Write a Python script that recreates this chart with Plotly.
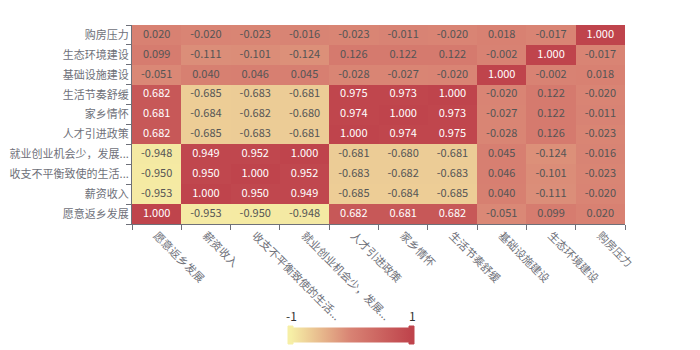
import plotly.graph_objects as go

labels = ["愿意返乡发展", "薪资收入", "收支不平衡致使的生活...", "就业创业机会少，发展...",
          "人才引进政策", "家乡情怀", "生活节奏舒缓", "基础设施建设", "生态环境建设", "购房压力"]

# rows in same order as labels (bottom to top)
row_yuanyi = [1.000, -0.953, -0.950, -0.948, 0.682, 0.681, 0.682, -0.051, 0.099, 0.020]
row_xinzi = [-0.953, 1.000, 0.950, 0.949, -0.685, -0.684, -0.685, 0.040, -0.111, -0.020]
row_shouzhi = [-0.950, 0.950, 1.000, 0.952, -0.683, -0.682, -0.683, 0.046, -0.101, -0.023]
row_jiuye = [-0.948, 0.949, 0.952, 1.000, -0.681, -0.680, -0.681, 0.045, -0.124, -0.016]
row_rencai = [0.682, -0.685, -0.683, -0.681, 1.000, 0.974, 0.975, -0.028, 0.126, -0.023]
row_jiaxiang = [0.681, -0.684, -0.682, -0.680, 0.974, 1.000, 0.973, -0.027, 0.122, -0.011]
row_shenghuo = [0.682, -0.685, -0.683, -0.681, 0.975, 0.973, 1.000, -0.020, 0.122, -0.020]
row_jichu = [-0.051, 0.040, 0.046, 0.045, -0.028, -0.027, -0.020, 1.000, -0.002, 0.018]
row_shengtai = [0.099, -0.111, -0.101, -0.124, 0.126, 0.122, 0.122, -0.002, 1.000, -0.017]
row_goufang = [0.020, -0.020, -0.023, -0.016, -0.023, -0.011, -0.020, 0.018, -0.017, 1.000]

z = [row_yuanyi, row_xinzi, row_shouzhi, row_jiuye, row_rencai,
     row_jiaxiang, row_shenghuo, row_jichu, row_shengtai, row_goufang]

colorscale = [[0, "#f6efa6"], [0.5, "#d88273"], [1, "#bf444c"]]
font_family = "Noto Sans CJK SC, Noto Sans, sans-serif"

W, H = 700, 350
L, R, T, B = 132, 75, 25, 126


def px_x(p):
    return (p - L) / (W - L - R)


def px_y(p):
    return (H - B - p) / (H - T - B)


fig = go.Figure()
fig.add_trace(go.Heatmap(
    z=z, x=labels, y=labels, zmin=-1, zmax=1,
    colorscale=colorscale, xgap=0, ygap=0,
    colorbar=dict(orientation="h", len=120, lenmode="pixels", thickness=15,
                  x=px_x(351), xanchor="center",
                  y=px_y(335), yanchor="middle",
                  outlinewidth=0, showticklabels=False, ticks="",
                  xpad=0, ypad=0),
))

tx, ty, tt, tc = [], [], [], []
for i, row in enumerate(z):
    for j, v in enumerate(row):
        tx.append(labels[j])
        ty.append(labels[i])
        tt.append(f"{v:.3f}")
        tc.append("#ffffff" if v > 0.5 else "#555555")

fig.add_trace(go.Scatter(x=tx, y=ty, mode="text", text=tt,
                         textfont=dict(color=tc, size=11, family=font_family),
                         hoverinfo="skip", showlegend=False))

# visualMap labels
fig.add_annotation(text="-1", xref="paper", yref="paper",
                   x=px_x(291), y=px_y(315), xanchor="center", yanchor="middle",
                   showarrow=False, font=dict(size=12, color="#333333", family=font_family))
fig.add_annotation(text="1", xref="paper", yref="paper",
                   x=px_x(412), y=px_y(315), xanchor="center", yanchor="middle",
                   showarrow=False, font=dict(size=12, color="#333333", family=font_family))

# visualMap handles
for x0, x1, col in [(288, 293, "#f6efa6"), (409, 414, "#bf444c")]:
    fig.add_shape(type="rect", xref="paper", yref="paper",
                  x0=px_x(x0), x1=px_x(x1), y0=px_y(344), y1=px_y(326),
                  fillcolor=col, line=dict(color=col, width=1), layer="above")

axis_common = dict(type="category", showgrid=False, zeroline=False,
                   showline=True, linecolor="#6e7079", linewidth=1,
                   ticks="outside", ticklen=5, tickcolor="#6e7079",
                   tickson="boundaries", automargin=False,
                   tickfont=dict(size=11, color="#6e7079", family=font_family))

fig.update_layout(
    width=W, height=H,
    margin=dict(l=L, r=R, t=T, b=B, autoexpand=False),
    paper_bgcolor="white", plot_bgcolor="white",
    xaxis=dict(**axis_common, tickangle=45),
    yaxis=dict(**axis_common),
    font=dict(family=font_family),
)

fig.write_html("out.html")
